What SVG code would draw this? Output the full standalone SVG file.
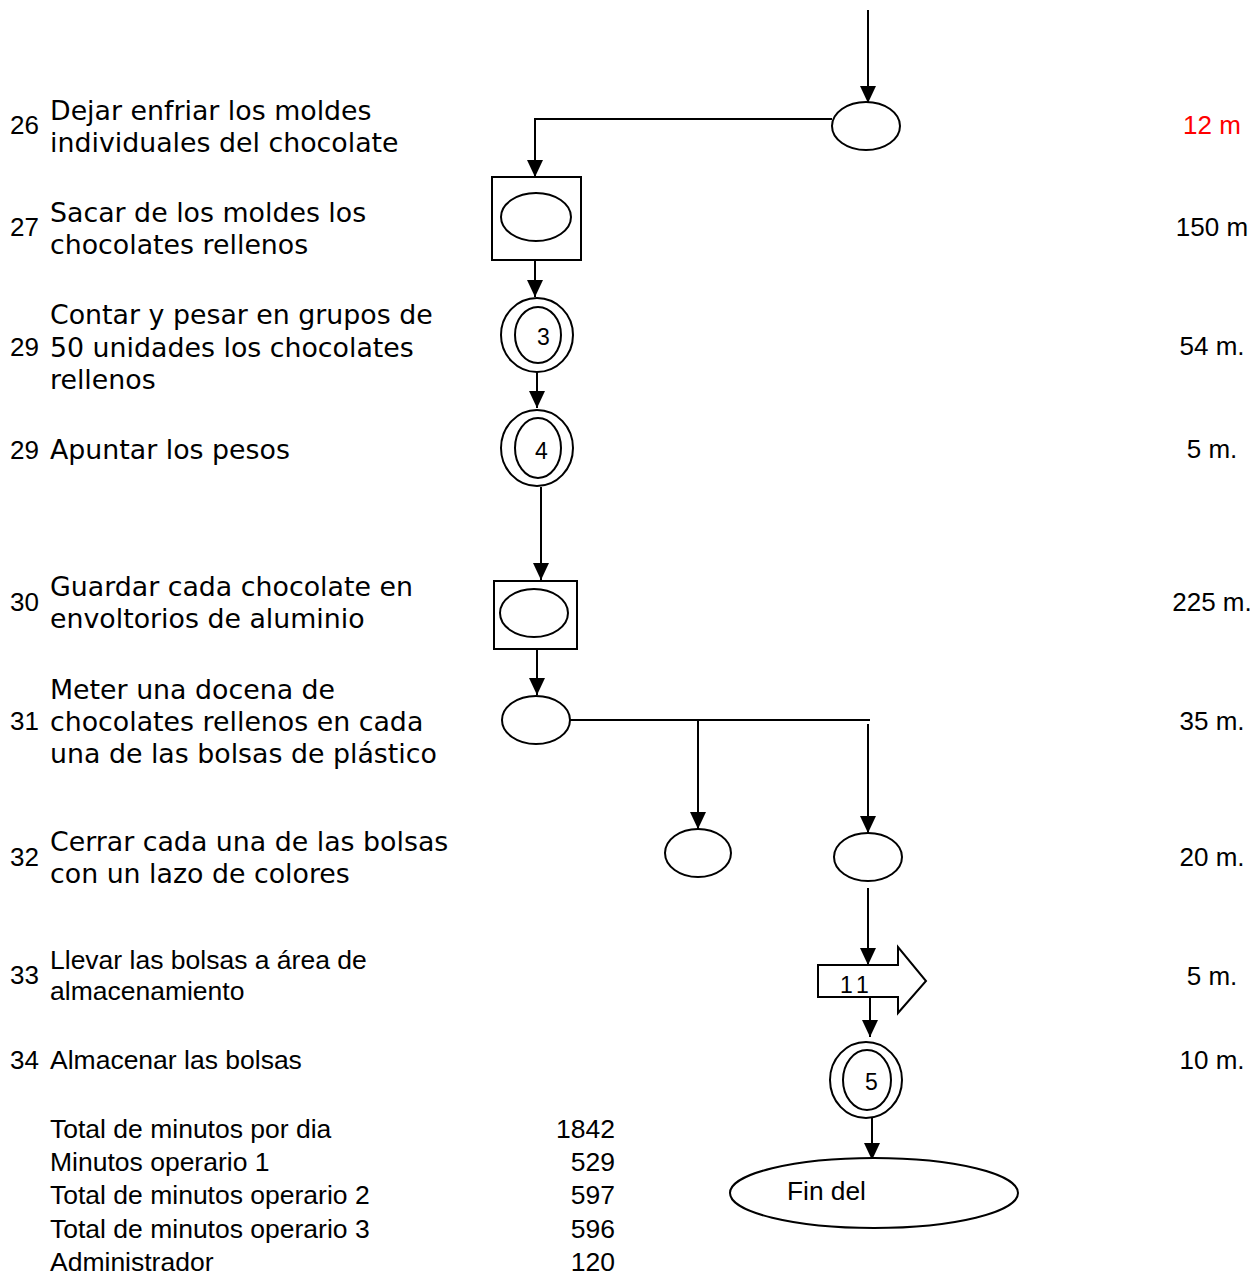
<svg xmlns="http://www.w3.org/2000/svg" width="1254" height="1276" viewBox="0 0 1254 1276">
  <style>
    .desc { font-family: "DejaVu Sans", Verdana, sans-serif; font-size: 26.8px; fill: #000; }
    .num { font-family: "Liberation Sans", Arial, sans-serif; font-size: 26px; fill: #000; }
    .step { font-family: "Liberation Sans", Arial, sans-serif; font-size: 26.5px; fill: #000; }
    .time { font-family: "Liberation Sans", Arial, sans-serif; font-size: 26px; fill: #000; text-anchor: middle; }
    .tot { font-family: "Liberation Sans", Arial, sans-serif; font-size: 26.5px; fill: #000; }
    .sym { fill: #fff; stroke: #000; stroke-width: 2; }
    .lbl { font-family: "Liberation Sans", Arial, sans-serif; font-size: 23px; fill: #000; }
    .fin { font-family: "Liberation Sans", Arial, sans-serif; font-size: 26.3px; fill: #000; }
    .conn { fill: none; stroke: #000; stroke-width: 2; }
  </style>
  <defs>
    <marker id="arrow" markerUnits="userSpaceOnUse" markerWidth="18" markerHeight="18" refX="17" refY="8" orient="auto">
      <path d="M0,0 L17,8 L0,16 Z" fill="#000"/>
    </marker>
  </defs>
  <rect width="1254" height="1276" fill="#fff"/>

  <!-- connectors -->
  <g id="connectors">
    <path class="conn" d="M868,10 V103" marker-end="url(#arrow)"/>
    <path class="conn" d="M832,119 H535 V177" marker-end="url(#arrow)"/>
    <path class="conn" d="M535,260 V297" marker-end="url(#arrow)"/>
    <path class="conn" d="M537,372 V408" marker-end="url(#arrow)"/>
    <path class="conn" d="M541,487 V580" marker-end="url(#arrow)"/>
    <path class="conn" d="M537,649 V695" marker-end="url(#arrow)"/>
    <path class="conn" d="M570,720 H870"/>
    <path class="conn" d="M698,720 V829" marker-end="url(#arrow)"/>
    <path class="conn" d="M868,724 V833" marker-end="url(#arrow)"/>
    <path class="conn" d="M868,888 V965" marker-end="url(#arrow)"/>
    <path class="conn" d="M870,997 V1037" marker-end="url(#arrow)"/>
    <path class="conn" d="M872,1118 V1160" marker-end="url(#arrow)"/>
  </g>

  <!-- flow symbols -->
  <g id="n26"><ellipse class="sym" cx="866" cy="126" rx="34" ry="24"/></g>
  <g id="n27">
    <rect class="sym" x="492" y="177" width="89" height="83"/>
    <ellipse class="sym" cx="536" cy="217" rx="35" ry="24"/>
  </g>
  <g id="n29a">
    <ellipse class="sym" cx="537" cy="335" rx="36" ry="37"/>
    <ellipse class="sym" cx="538" cy="335" rx="23" ry="28"/>
    <text class="lbl" x="537" y="345">3</text>
  </g>
  <g id="n29b">
    <ellipse class="sym" cx="537" cy="448" rx="36" ry="38"/>
    <ellipse class="sym" cx="538" cy="448" rx="23" ry="30"/>
    <text class="lbl" x="535" y="459">4</text>
  </g>
  <g id="n30">
    <rect class="sym" x="494" y="581" width="83" height="68"/>
    <ellipse class="sym" cx="534" cy="613" rx="34" ry="24"/>
  </g>
  <g id="n31"><ellipse class="sym" cx="536" cy="720" rx="34" ry="24"/></g>
  <g id="n32a"><ellipse class="sym" cx="698" cy="853" rx="33" ry="24"/></g>
  <g id="n32b"><ellipse class="sym" cx="868" cy="857" rx="34" ry="24"/></g>
  <g id="n33">
    <path class="sym" d="M818,965 H898 V947 L926,981 L898,1013 V997 H818 Z"/>
    <text class="lbl" x="840" y="993" letter-spacing="5">11</text>
  </g>
  <g id="n34">
    <ellipse class="sym" cx="866" cy="1080" rx="36" ry="38"/>
    <ellipse class="sym" cx="867" cy="1080" rx="24" ry="30"/>
    <text class="lbl" x="865" y="1090">5</text>
  </g>
  <g id="fin">
    <ellipse class="sym" cx="874" cy="1193" rx="144" ry="35"/>
    <text class="fin" x="787" y="1200">Fin del</text>
  </g>

  <!-- step descriptions -->
  <g id="steps">
    <text class="num" x="10" y="134">26</text>
    <text class="desc" x="50" y="120">Dejar enfriar los moldes</text>
    <text class="desc" x="50" y="152">individuales del chocolate</text>

    <text class="num" x="10" y="236">27</text>
    <text class="desc" x="50" y="222">Sacar de los moldes los</text>
    <text class="desc" x="50" y="254">chocolates rellenos</text>

    <text class="num" x="10" y="356">29</text>
    <text class="desc" x="50" y="324">Contar y pesar en grupos de</text>
    <text class="desc" x="50" y="357">50 unidades los chocolates</text>
    <text class="desc" x="50" y="389">rellenos</text>

    <text class="num" x="10" y="459">29</text>
    <text class="desc" x="50" y="459">Apuntar los pesos</text>

    <text class="num" x="10" y="611">30</text>
    <text class="desc" x="50" y="596">Guardar cada chocolate en</text>
    <text class="desc" x="50" y="628">envoltorios de aluminio</text>

    <text class="num" x="10" y="730">31</text>
    <text class="desc" x="50" y="699">Meter una docena de</text>
    <text class="desc" x="50" y="731">chocolates rellenos en cada</text>
    <text class="desc" x="50" y="763">una de las bolsas de plástico</text>

    <text class="num" x="10" y="866">32</text>
    <text class="desc" x="50" y="851">Cerrar cada una de las bolsas</text>
    <text class="desc" x="50" y="883">con un lazo de colores</text>

    <text class="num" x="10" y="984">33</text>
    <text class="step" x="50" y="969">Llevar las bolsas a área de</text>
    <text class="step" x="50" y="1000">almacenamiento</text>

    <text class="num" x="10" y="1069">34</text>
    <text class="step" x="50" y="1069">Almacenar las bolsas</text>
  </g>

  <!-- durations -->
  <g id="times">
    <text class="time" x="1212" y="134" style="fill:#f00">12 m</text>
    <text class="time" x="1212" y="236">150 m</text>
    <text class="time" x="1212" y="355">54 m.</text>
    <text class="time" x="1212" y="458">5 m.</text>
    <text class="time" x="1212" y="611">225 m.</text>
    <text class="time" x="1212" y="730">35 m.</text>
    <text class="time" x="1212" y="866">20 m.</text>
    <text class="time" x="1212" y="985">5 m.</text>
    <text class="time" x="1212" y="1069">10 m.</text>
  </g>

  <!-- totals -->
  <g id="totals">
    <text class="tot" x="50" y="1138">Total de minutos por dia</text>
    <text class="tot" x="50" y="1171">Minutos operario 1</text>
    <text class="tot" x="50" y="1204">Total de minutos operario 2</text>
    <text class="tot" x="50" y="1238">Total de minutos operario 3</text>
    <text class="tot" x="50" y="1271">Administrador</text>
    <text class="tot" x="615" y="1138" text-anchor="end">1842</text>
    <text class="tot" x="615" y="1171" text-anchor="end">529</text>
    <text class="tot" x="615" y="1204" text-anchor="end">597</text>
    <text class="tot" x="615" y="1238" text-anchor="end">596</text>
    <text class="tot" x="615" y="1271" text-anchor="end">120</text>
  </g>
</svg>
